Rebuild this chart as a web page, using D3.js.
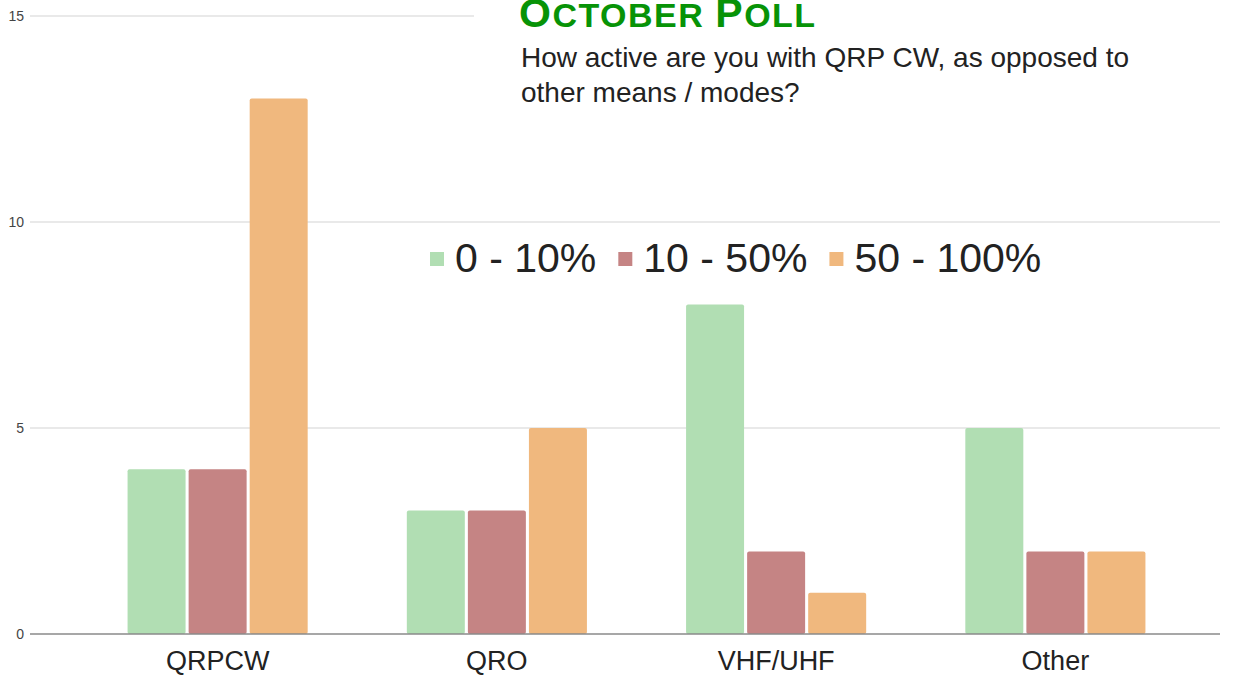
<!DOCTYPE html>
<html>
<head>
<meta charset="utf-8">
<script src="https://d3js.org/d3.v7.min.js"></script>
<style>
  body { margin: 0; background: #fff; }
  svg { display: block; font-family: "Liberation Sans", Arial, sans-serif; }
</style>
</head>
<body>
<script>

// chart data
var categories = ["QRPCW", "QRO", "VHF/UHF", "Other"];
var seriesNames = ["0 - 10%", "10 - 50%", "50 - 100%"];
var seriesColors = ["#b1deb3", "#c58484", "#f0b87e"];
var low = [4, 3, 8, 5];      // 0 - 10%
var mid = [4, 3, 2, 2];      // 10 - 50%
var high = [13, 5, 1, 2];    // 50 - 100%
var yTicks = [0, 5, 10, 15];

var width = 1234, height = 677;

var svg = d3.select("body").append("svg")
    .attr("width", width)
    .attr("height", height);

var y = d3.scaleLinear().domain([0, 15]).range([634, 16]);

var x0 = d3.scaleBand()
    .domain(categories)
    .range([78, 1195])
    .paddingInner(0.355)
    .paddingOuter(0.1775);

var x1 = d3.scaleBand()
    .domain(seriesNames)
    .range([0, x0.bandwidth()])
    .paddingInner(0.05);

// gridlines
svg.append("g").selectAll("line")
    .data(yTicks.filter(function(d) { return d > 0; }))
  .enter().append("line")
    .attr("x1", 30)
    .attr("x2", 1220)
    .attr("y1", function(d) { return y(d); })
    .attr("y2", function(d) { return y(d); })
    .attr("stroke", "#e2e2e2")
    .attr("stroke-width", 1.5);

// y labels
svg.append("g").selectAll("text")
    .data(yTicks)
  .enter().append("text")
    .attr("x", 24)
    .attr("y", function(d) { return y(d) + 5; })
    .attr("text-anchor", "end")
    .style("font-size", "14px")
    .style("fill", "#444")
    .text(function(d) { return d; });

// bars
var rows = categories.map(function(c, i) {
  return { cat: c, vals: [low[i], mid[i], high[i]] };
});

var groups = svg.append("g").selectAll("g")
    .data(rows)
  .enter().append("g")
    .attr("transform", function(d) { return "translate(" + x0(d.cat) + ",0)"; });

groups.selectAll("rect")
    .data(function(d) { return d.vals.map(function(v, j) { return { name: seriesNames[j], v: v, j: j }; }); })
  .enter().append("rect")
    .attr("x", function(d) { return x1(d.name); })
    .attr("y", function(d) { return y(d.v); })
    .attr("width", x1.bandwidth())
    .attr("height", function(d) { return y(0) - y(d.v); })
    .attr("rx", 2)
    .attr("fill", function(d) { return seriesColors[d.j]; });

// baseline
svg.append("line")
    .attr("x1", 30).attr("x2", 1220)
    .attr("y1", y(0)).attr("y2", y(0))
    .attr("stroke", "#8a8a8a")
    .attr("stroke-width", 1.5);

// x labels
svg.append("g").selectAll("text")
    .data(categories)
  .enter().append("text")
    .attr("x", function(d) { return x0(d) + x0.bandwidth() / 2; })
    .attr("y", 670)
    .attr("text-anchor", "middle")
    .style("font-size", "27px")
    .style("fill", "#222")
    .text(function(d) { return d; });

// legend
var legend = svg.append("g");
var lx = 430;
seriesNames.forEach(function(name, i) {
  legend.append("rect")
      .attr("x", lx).attr("y", 252)
      .attr("width", 14).attr("height", 14)
      .attr("fill", seriesColors[i]);
  var t = legend.append("text")
      .attr("x", lx + 25)
      .attr("y", 272)
      .style("font-size", "41px")
      .style("fill", "#222")
      .text(name);
  lx += 25 + t.node().getComputedTextLength() + 22;
});

// title box covering the top gridline
svg.append("rect")
    .attr("x", 474).attr("y", 0)
    .attr("width", 760).attr("height", 115)
    .attr("fill", "#fff");

var title = svg.append("text")
    .attr("x", 519)
    .attr("y", 27)
    .style("font-weight", "bold")
    .style("letter-spacing", "1.5px")
    .style("fill", "#079307");
title.append("tspan").style("font-size", "41px").text("O");
title.append("tspan").style("font-size", "34px").text("CTOBER ");
title.append("tspan").style("font-size", "41px").text("P");
title.append("tspan").style("font-size", "34px").text("OLL");

var sub = svg.append("text")
    .style("font-size", "28px")
    .style("fill", "#222");
sub.append("tspan").attr("x", 521).attr("y", 67).text("How active are you with QRP CW, as opposed to");
sub.append("tspan").attr("x", 521).attr("y", 102).text("other means / modes?");

</script>
</body>
</html>
